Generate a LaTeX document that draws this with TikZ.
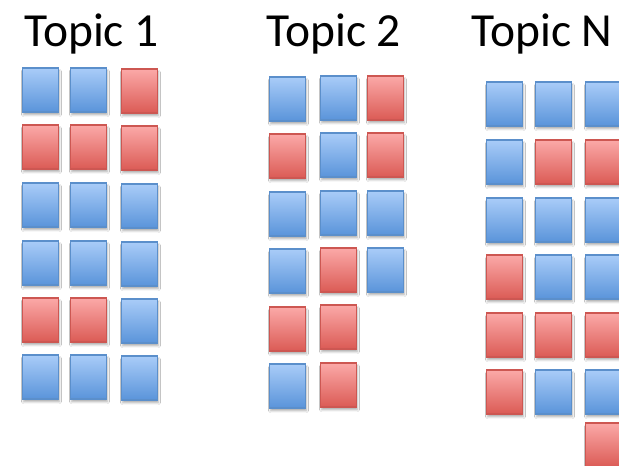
\documentclass[tikz,border=0pt]{standalone}
\usepackage{fontspec}
\setmainfont{Carlito}
\usetikzlibrary{shadows.blur}
\definecolor{BT}{HTML}{A9CCF8}
\definecolor{BB}{HTML}{5A94DA}
\definecolor{BL}{HTML}{5B8FCB}
\definecolor{RT}{HTML}{FBA9A8}
\definecolor{RB}{HTML}{DB5B55}
\definecolor{RL}{HTML}{CD5752}
\tikzset{
  sq/.style={anchor=north west, minimum width=36pt, minimum height=44pt, inner sep=0pt,
    line width=1.9pt, top color=#1T, bottom color=#1B, draw=#1L,
    blur shadow={shadow xshift=1pt, shadow yshift=-3pt, shadow opacity=30}},
  title/.style={anchor=base west, font=\fontsize{47.5}{52}\selectfont, inner sep=0pt}
}
\begin{document}
\begin{tikzpicture}[x=1pt,y=-1pt]
\useasboundingbox (0,0) rectangle (619,466);
\clip (0,0) rectangle (619,466);
\fill[white] (0,0) rectangle (619,466);
\node[title] (t1) at (24,46.5) {Topic 1};
\node[title] (t2) at (266,46.5) {Topic 2};
\node[title] (tn) at (471,46.5) {Topic N};
% Topic 1
\foreach \y/\a/\b/\c [count=\r] in {67/B/B/R,124/R/R/R,182/B/B/B,240/B/B/B,297/R/R/B,354/B/B/B}{
  \node[sq=\a] (a\r-1) at (21.5,\y) {};
  \node[sq=\b] (a\r-2) at (69.5,\y) {};
  \node[sq=\c] (a\r-3) at (120.5,\y+1) {};
}
% Topic 2
\foreach \y/\a/\b/\c [count=\r] in {75/B/B/R,132/R/B/R,190/B/B/B,247/B/R/B}{
  \node[sq=\a] (b\r-1) at (268.5,\y+1) {};
  \node[sq=\b] (b\r-2) at (319.5,\y) {};
  \node[sq=\c] (b\r-3) at (366.5,\y) {};
}
\node[sq=R] (b5-1) at (268.5,306) {};
\node[sq=R] (b5-2) at (319.5,304) {};
\node[sq=B] (b6-1) at (268.5,363) {};
\node[sq=R] (b6-2) at (319.5,362) {};
% Topic N
\foreach \y/\a/\b/\c [count=\r] in {81/B/B/B,139/B/R/R,197/B/B/B,254/R/B/B,312/R/R/R,369/R/B/B}{
  \node[sq=\a] (n\r-1) at (485.5,\y) {};
  \node[sq=\b] (n\r-2) at (534.5,\y) {};
  \node[sq=\c] (n\r-3) at (584.5,\y) {};
}
\node[sq=R] (n7-3) at (584.5,422) {};
\end{tikzpicture}
\end{document}
